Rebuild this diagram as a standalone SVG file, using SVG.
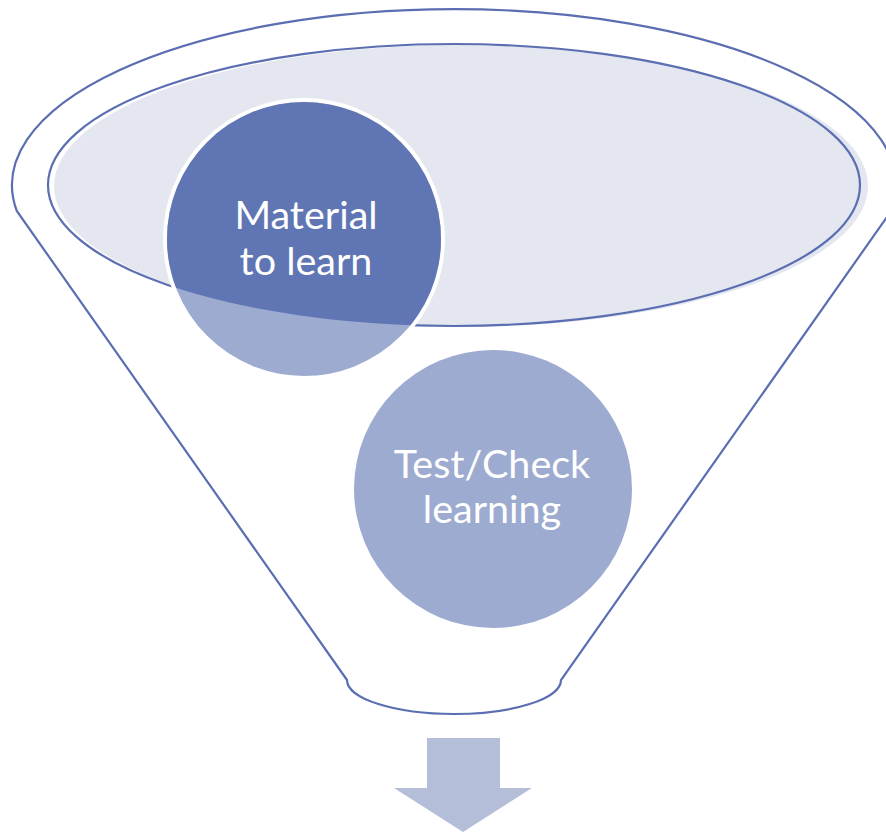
<svg xmlns="http://www.w3.org/2000/svg" width="886" height="833" viewBox="0 0 886 833">
  <style>
    .outline { fill: none; stroke: #5B6EB2; stroke-width: 2.2; }
    .label { font-family: Lato, "Liberation Sans", sans-serif; font-size: 39.5px; fill: #FFFFFF; text-anchor: middle; }
  </style>
  <defs>
    <clipPath id="topClip">
      <ellipse cx="454" cy="185" rx="406" ry="141"/>
    </clipPath>
  </defs>
  <rect width="886" height="833" fill="#FFFFFF"/>
  <g id="funnel">
    <path class="outline" d="M 347 680 L 16.8 211 A 442 176 0 1 1 891.2 211 L 561 680 A 107 34 0 0 1 347 680 Z"/>
    <ellipse cx="461" cy="186" rx="407" ry="141" fill="#E4E7F0"/>
    <ellipse class="outline" cx="454" cy="185" rx="406" ry="141"/>
  </g>
  <g id="material">
    <circle cx="304" cy="239" r="139" fill="#9DABD1" stroke="#FFFFFF" stroke-width="4"/>
    <circle cx="304" cy="239" r="137" fill="#6076B4" clip-path="url(#topClip)"/>
    <text class="label" x="306" y="229">Material</text>
    <text class="label" x="306" y="275">to learn</text>
  </g>
  <g id="test">
    <circle cx="493" cy="489" r="139" fill="#9DABD1"/>
    <text class="label" x="492" y="478">Test/Check</text>
    <text class="label" x="492" y="523">learning</text>
  </g>
  <g id="connectors">
    <path d="M 427 738 L 500 738 L 500 788 L 532 788 L 463 832 L 394 788 L 427 788 Z" fill="#B5BED9"/>
  </g>
</svg>
